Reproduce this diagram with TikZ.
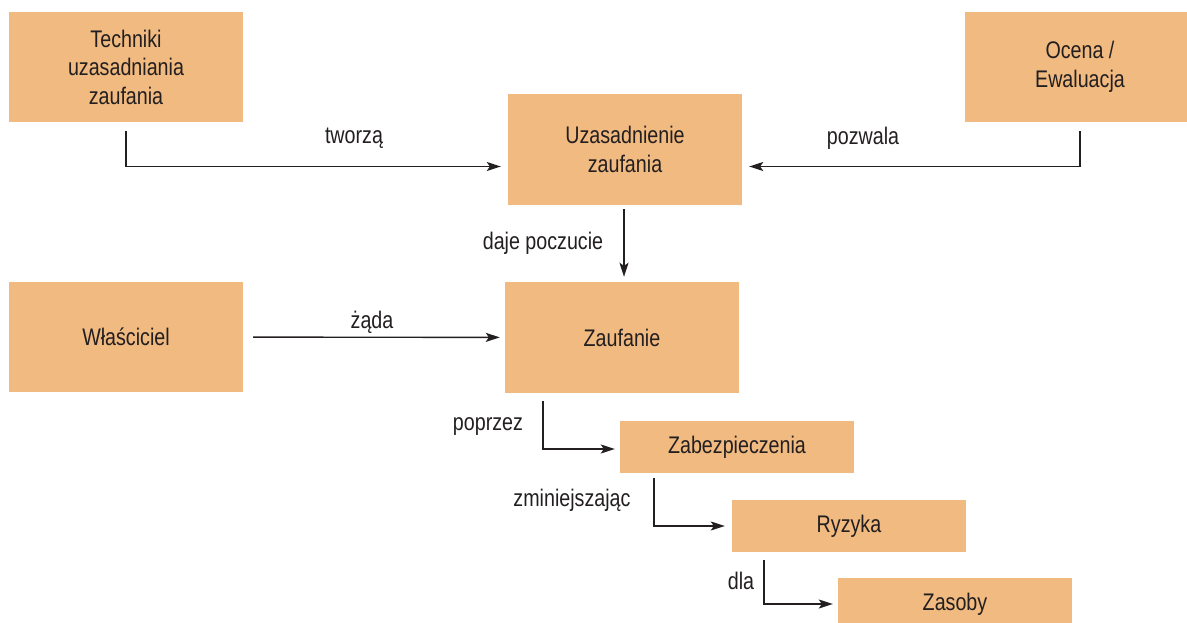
\documentclass[tikz,border=0pt]{standalone}
\usepackage{fontspec}
\setmainfont{Liberation Sans}[FakeStretch=0.82]
\usetikzlibrary{arrows.meta}
\definecolor{boxfill}{HTML}{F0BA80}
\definecolor{ink}{HTML}{231F20}
\begin{document}
\begin{tikzpicture}[x=1pt, y=-1pt,
  main/.style = {fill=boxfill, text=ink, align=center, inner sep=0pt, minimum width=234pt, minimum height=110pt, font=\fontsize{24}{28.5}\selectfont},
  flat/.style = {main, minimum height=52pt},
  lab/.style = {text=ink, inner sep=0pt, font=\fontsize{24}{28.5}\selectfont},
  arr/.style = {draw=ink, line width=1.4pt, -{Stealth[length=14pt,width=9pt,inset=3pt]}}]
\useasboundingbox (0,0) rectangle (1187,623);

\node[main] (tech) at (126,67) {Techniki\\uzasadniania\\zaufania};
\node[main, minimum width=230pt] (ocena) at (1080,67) {Ocena /\\Ewaluacja};
\node[main, minimum height=111pt] (uzas) at (625,149.5) {Uzasadnienie\\zaufania};
\node[main] (wlas) at (126,337) {Właściciel};
\node[main, minimum height=111pt] (zauf) at (622,337.5) {Zaufanie};
\node[flat] (zab) at (737,447) {Zabezpieczenia};
\node[flat] (ryz) at (849,526) {Ryzyka};
\node[flat] (zas) at (955,604) {Zasoby};

\node[lab] (tworza) at (354,138) {tworzą};
\node[lab] (pozwala) at (863,138) {pozwala};
\node[lab] (daje) at (543,243) {daje poczucie};
\node[lab] (zada) at (372,322) {żąda};
\node[lab] (poprzez) at (488,427) {poprzez};
\node[lab] (zmniej) at (572,500) {zminiejszając};
\node[lab] (dla) at (741,581) {dla};

\draw[arr, shorten <=9pt, shorten >=7pt] (tech.south) |- ([yshift=-17pt]uzas.west);
\draw[arr, shorten <=9pt, shorten >=7pt] (ocena.south) |- ([yshift=-17pt]uzas.east);
\draw[arr, shorten <=4pt, shorten >=5pt] ([xshift=-1pt]uzas.south) -- ([xshift=-1pt]uzas.south |- zauf.north);
\draw[arr, shorten <=10pt, shorten >=5pt] (wlas) -- (zauf);
\draw[arr, shorten <=8pt, shorten >=5pt] ([xshift=38pt]zauf.south west) |- ([yshift=-2pt]zab.west);
\draw[arr, shorten <=5pt, shorten >=7pt] ([xshift=34pt]zab.south west) |- (ryz.west);
\draw[arr, shorten <=8pt, shorten >=5pt] ([xshift=32pt]ryz.south west) |- (zas.west);

\end{tikzpicture}
\end{document}
